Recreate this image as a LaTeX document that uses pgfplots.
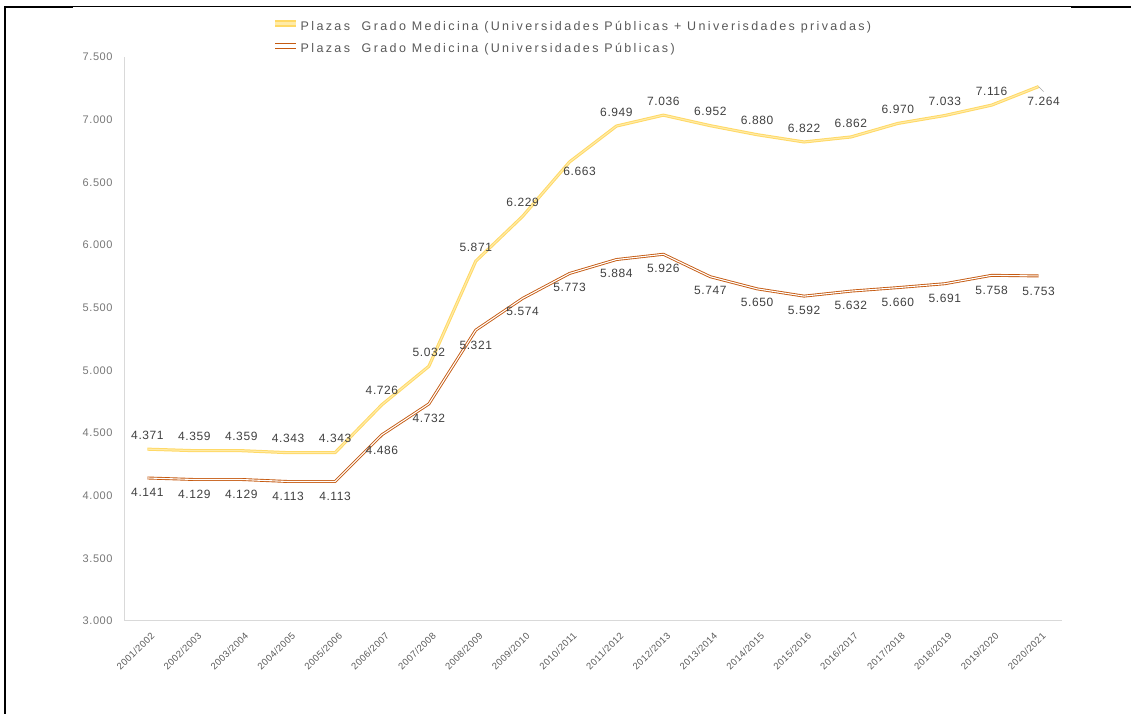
\documentclass[border=0pt]{standalone}
\usepackage{fontspec}
\setmainfont{Liberation Sans}[LetterSpace=5]
\newfontfamily\legfont{Liberation Sans}[LetterSpace=19]
\usepackage{pgfplots}
\pgfplotsset{compat=1.18}
\usepackage{pgfplotstable}
\definecolor{yel}{HTML}{FFD966}
\definecolor{yelin}{HTML}{FFEBA8}
\definecolor{org}{HTML}{C55A11}
\definecolor{lbl}{HTML}{404040}
\definecolor{legc}{HTML}{595959}
\definecolor{tickc}{HTML}{767676}
\definecolor{axl}{HTML}{D9D9D9}

\pgfplotstableread{
x yel org dxy dyy dxo dyo
0 4371 4141 0 14 0 -14.5
1 4359 4129 0 14 0 -14.5
2 4359 4129 0 14 0 -14.5
3 4343 4113 0 14 0 -14.5
4 4343 4113 0 14 0 -14.5
5 4726 4486 0 14 0 -15.5
6 5032 4732 0 14 0 -14.5
7 5871 5321 0 14 0 -15.5
8 6229 5574 0 14 0 -13.5
9 6663 5773 10 -9 0 -13.5
10 6949 5884 0 14 0 -14
11 7036 5926 0 14 0 -14
12 6952 5747 0 14 0 -14
13 6880 5650 0 14 0 -14
14 6822 5592 0 14 0 -14
15 6862 5632 0 14 0 -14
16 6970 5660 0 14 0 -14.5
17 7033 5691 0 14 0 -14.5
18 7116 5758 0 14 0 -15.5
19 7264 5753 5 -15 0 -15.5
}\datatable

\begin{document}
\begin{tikzpicture}[x=1pt,y=1pt]
\useasboundingbox (0,0) rectangle (1131,714);
\draw[line width=2pt] (5,0) -- (5,707);
\draw[line width=2pt] (4,707) -- (73,707);
\draw[line width=1pt] (73,707) -- (1071,707);
\draw[line width=2pt] (1071,706.5) -- (1131,706.5);
\begin{axis}[
  at={(124pt,93pt)}, anchor=south west,
  scale only axis, width=938pt, height=564pt,
  xmin=-0.5, xmax=19.5, ymin=3000, ymax=7500,
  clip=false,
  axis x line*=bottom, axis y line*=left,
  axis line style={draw=axl, line width=1pt, -},
  major tick length=0pt,
  xtick={0,...,19},
  xticklabels={2001/2002,2002/2003,2003/2004,2004/2005,2005/2006,2006/2007,2007/2008,2008/2009,2009/2010,2010/2011,2011/2012,2012/2013,2013/2014,2014/2015,2015/2016,2016/2017,2017/2018,2018/2019,2019/2020,2020/2021},
  xticklabel style={rotate=45, anchor=north east, font=\fontsize{9.5}{11}\selectfont, text=legc, xshift=-2pt, yshift=-6pt},
  ytick={3000,3500,...,7500},
  yticklabel style={font=\fontsize{11}{13}\selectfont, text=tickc, xshift=-8pt},
  /pgf/number format/.cd, 1000 sep={.}, fixed, precision=0, assume math mode=true,
  /pgfplots/.cd,
  legend style={at={(0.1575,1.066)}, anchor=north west, draw=none, fill=none,
    font=\legfont\fontsize{12.5}{14}\selectfont, text=legc, row sep=10pt, inner sep=0pt,
    nodes={inner sep=1pt}},
  legend cell align=left,
]
\addplot[draw=yel, double=yelin, line width=1pt, double distance=1.1pt, line join=round,
  legend image code/.code={\draw[yel, line width=2.8pt] (0pt,3pt) -- (21pt,3pt); \draw[yelin, line width=1pt] (0pt,3pt) -- (21pt,3pt);},
  nodes near coords={\pgfmathprintnumber[1000 sep={.},fixed,precision=0,assume math mode=true]{\pgfplotspointmeta}},
  visualization depends on={\thisrow{dxy} \as \dxv},
  visualization depends on={\thisrow{dyy} \as \dyv},
  every node near coord/.style={anchor=center, xshift=\dxv pt, yshift=\dyv pt, text=lbl, font=\fontsize{12}{14}\selectfont}
] table[x=x, y=yel] {\datatable};
\addlegendentry{Plazas\ \ Grado Medicina (Universidades Públicas + Univerisdades privadas)}
\addplot[draw=org, double=white, line width=0.9pt, double distance=1.1pt, line join=round,
  legend image code/.code={\draw[org, line width=2.8pt] (0pt,3pt) -- (21pt,3pt); \draw[white, line width=1pt] (0pt,3pt) -- (21pt,3pt);},
  nodes near coords={\pgfmathprintnumber[1000 sep={.},fixed,precision=0,assume math mode=true]{\pgfplotspointmeta}},
  visualization depends on={\thisrow{dxo} \as \dxv},
  visualization depends on={\thisrow{dyo} \as \dyv},
  every node near coord/.style={anchor=center, xshift=\dxv pt, yshift=\dyv pt, text=lbl, font=\fontsize{12}{14}\selectfont}
] table[x=x, y=org] {\datatable};
\addlegendentry{Plazas\ \ Grado Medicina (Universidades Públicas)}
\draw[gray!70, line width=0.6pt] (axis cs:19,7264) -- ++(5pt,-5pt);
\end{axis}
\end{tikzpicture}
\end{document}
